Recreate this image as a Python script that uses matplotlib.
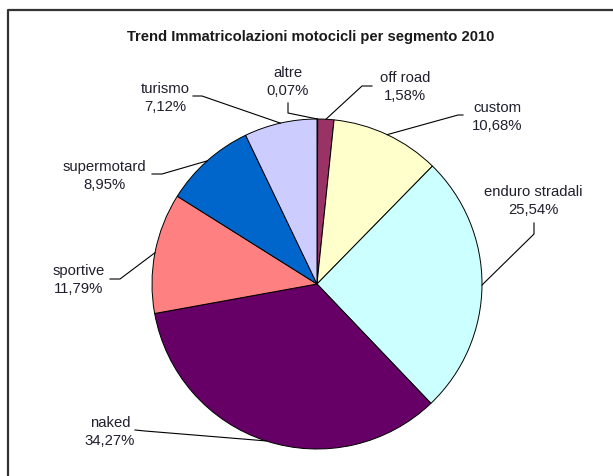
import numpy as np
import matplotlib
matplotlib.use('Agg')
import matplotlib.pyplot as plt

plt.rcParams['font.family'] = ['Liberation Sans', 'DejaVu Sans']

W, H = 613, 477

title = 'Trend Immatricolazioni motocicli per segmento 2010'
segments = ['altre', 'off road', 'custom', 'enduro stradali', 'naked',
            'sportive', 'supermotard', 'turismo']
shares = [0.07, 1.58, 10.68, 25.54, 34.27, 11.79, 8.95, 7.12]
colors = ['#9999FF', '#993366', '#FFFFCC', '#CCFFFF', '#660066',
          '#FF8080', '#0066CC', '#CCCCFF']

# layout in pixel coords (y measured from top)
label_pos = {
    'altre': (288, 82), 'off road': (405, 87), 'custom': (497, 117),
    'enduro stradali': (533, 201), 'naked': (110, 432),
    'sportive': (79, 280), 'supermotard': (104, 176), 'turismo': (165, 98),
}
# leader line: start near the label, then elbow, then to the wedge rim
leader = {
    'altre': [(288, 104), (288, 114)],
    'off road': [(372, 87), (362, 87)],
    'custom': [(463, 116), (458, 116)],
    'enduro stradali': [(534, 224), (534, 235)],
    'naked': [(135, 431), (145, 432)],
    'sportive': [(110, 280), (120, 280)],
    'supermotard': [(152, 175), (162, 175)],
    'turismo': [(193, 97), (202, 97)],
}
cx, cy, R = 317, 285, 165


def py(y):
    return H - y


fig = plt.figure(figsize=(W / 100, H / 100), dpi=100)
ax = fig.add_axes([0, 0, 1, 1])

wedges, _ = ax.pie(shares, colors=colors, startangle=90, counterclock=False,
                   center=(cx, py(cy)), radius=R,
                   wedgeprops=dict(edgecolor='black', linewidth=0.7))
ax.set_xlim(0, W)
ax.set_ylim(0, H)
ax.set_aspect('auto')
ax.axis('off')

# frame
ax.plot([8, 8, W + 5], [-5, py(11), py(11)], color='#333333', lw=1.6,
        clip_on=False)

ax.text(311, py(37), title, ha='center', va='center', fontsize=10.6,
        fontweight='bold', color='#1a1a1a')

txt_color = '#20202e'
for name, val, w in zip(segments, shares, wedges):
    x, y = label_pos[name]
    lab = f'{name}\n{val:.2f}%'.replace('.', ',')
    ax.text(x, py(y), lab, ha='center', va='center', fontsize=10.7,
            linespacing=1.4, color=txt_color)
    mid = np.deg2rad((w.theta1 + w.theta2) / 2)
    ex, ey = cx + R * np.cos(mid), py(cy) + R * np.sin(mid)
    (sx, sy), (bx, by) = leader[name]
    ax.plot([sx, bx, ex], [py(sy), py(by), ey], color='black', lw=0.8)

fig.savefig('out.png', dpi=100)
